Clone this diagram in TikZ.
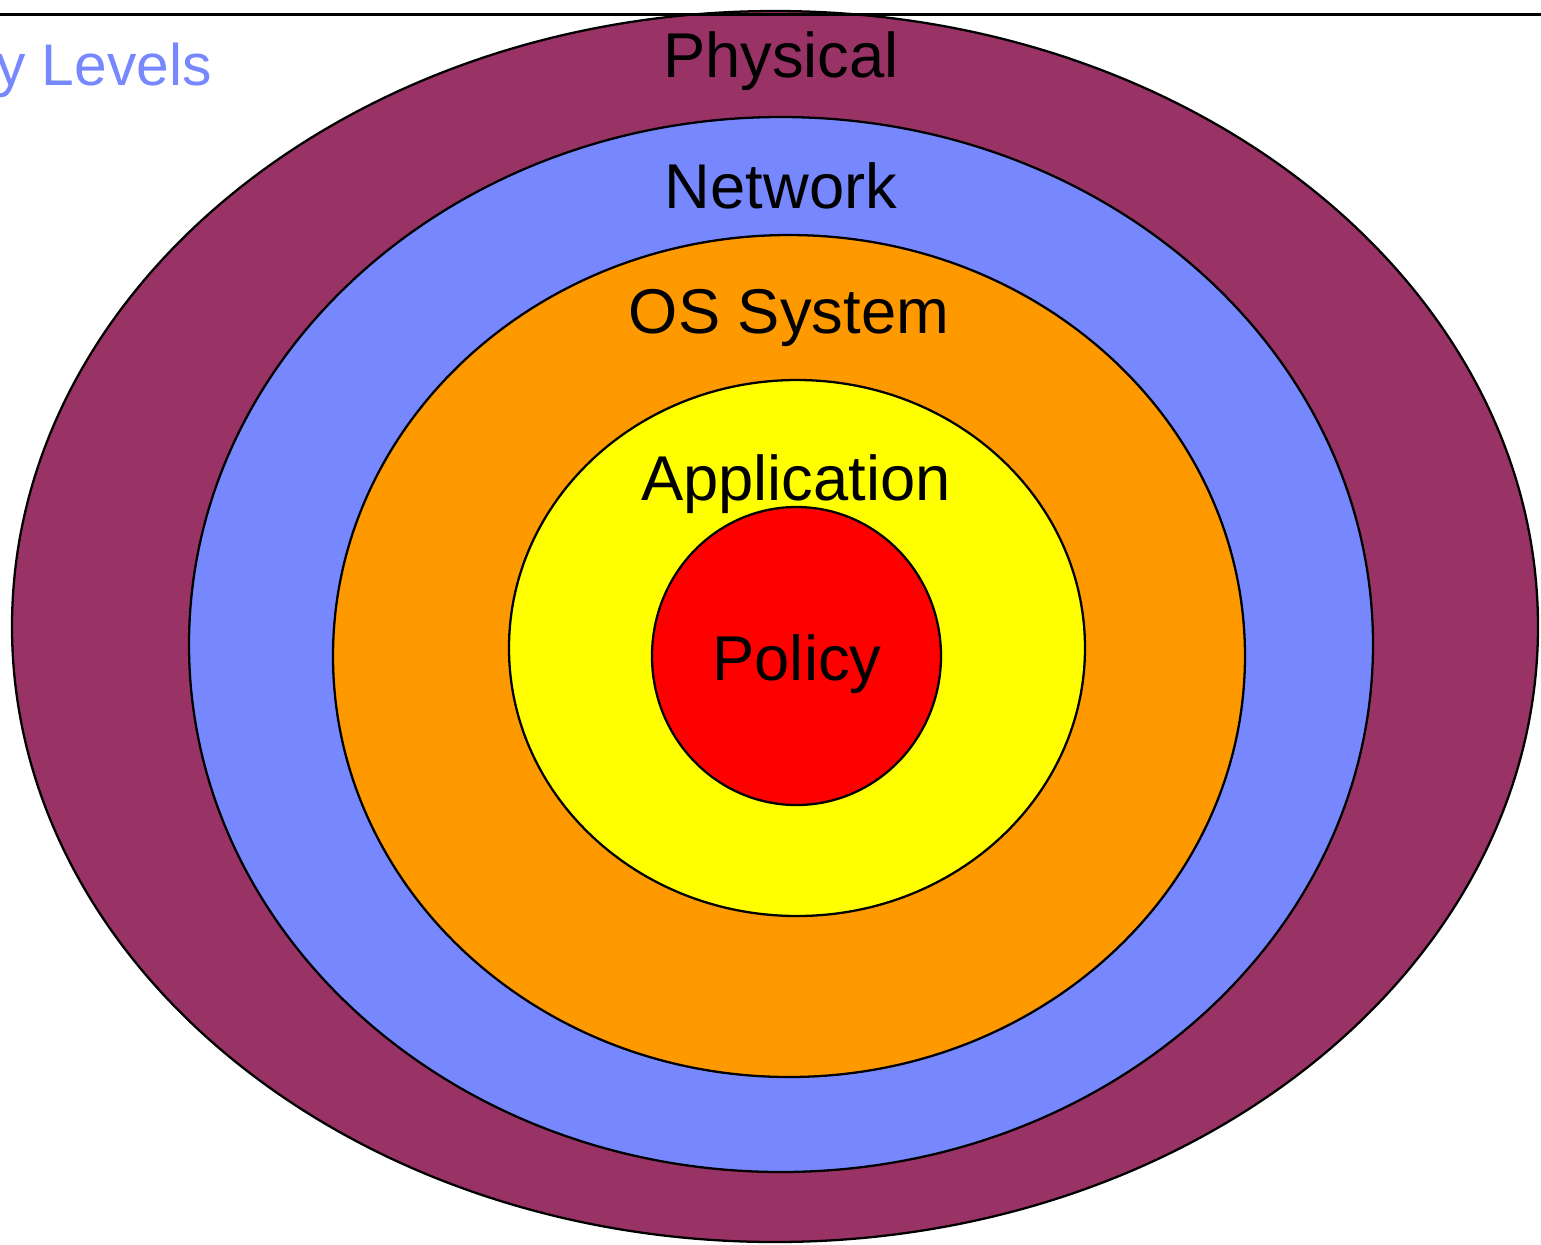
\documentclass[tikz,border=0pt]{standalone}
\usepackage{fontspec}
\setmainfont{Liberation Sans}
\usepackage{tikz}

\definecolor{physcol}{HTML}{993366}
\definecolor{netcol}{HTML}{7788FF}
\definecolor{oscol}{HTML}{FF9900}
\definecolor{appcol}{HTML}{FFFF00}
\definecolor{polcol}{HTML}{FF0000}

\begin{document}
\begin{tikzpicture}[x=0.01cm, y=-0.01cm, line width=0.65pt,
		ring/.style={draw=black},
		every node/.style={anchor=base, inner sep=0pt, font=\fontsize{18pt}{20pt}\selectfont}]
			\useasboundingbox (0,0) rectangle (1541,1244);
			
			% Physical
			\draw[ring, fill=physcol] (775,626.5) ellipse [x radius=763, y radius=615.5];
			\node (physical) at (781,77) {Physical};
			
			% Network
			\draw[ring, fill=netcol] (781,644.5) ellipse [x radius=592, y radius=527.5];
			\node (network) at (781,208) {Network};
			
			% OS System
			\draw[ring, fill=oscol] (789,656) ellipse [x radius=456, y radius=421];
			\node (os) at (789,333) {OS System};
			
			% Application
			\draw[ring, fill=appcol] (797,648) ellipse [x radius=288, y radius=268];
			\node (app) at (796,500) {Application};
			
			% Policy
			\draw[ring, fill=polcol] (796.5,656) ellipse [x radius=144.5, y radius=149];
			\node (policy) at (797,680) {Policy};
			
			% title and rule
			\node (title) [anchor=base west, text=netcol, font=\fontsize{16.7pt}{19pt}\selectfont] at (-5,85) {y Levels};
			\coordinate (rulew) at (0,14.5);
			\coordinate (rulee) at (1541,14.5);
			\draw (rulew) -- (rulee);
		\end{tikzpicture}
\end{document}
